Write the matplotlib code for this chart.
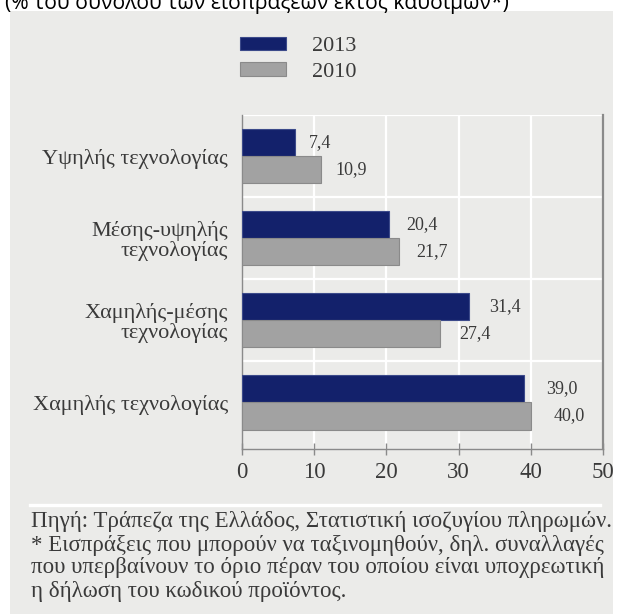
import matplotlib
matplotlib.use("Agg")
import matplotlib.pyplot as plt
from matplotlib.patches import Rectangle
from matplotlib.lines import Line2D
import numpy as np

categories = ["Υψηλής τεχνολογίας", "Μέσης-υψηλής\nτεχνολογίας",
              "Χαμηλής-μέσης\nτεχνολογίας", "Χαμηλής τεχνολογίας"]
values_2013 = [7.4, 20.4, 31.4, 39.0]
values_2010 = [10.9, 21.7, 27.4, 40.0]
series_labels = ["2013", "2010"]
xticks = [0, 10, 20, 30, 40, 50]
title = "(% του συνόλου των εισπράξεων εκτός καυσίμων*)"
notes = ["Πηγή: Τράπεζα της Ελλάδος, Στατιστική ισοζυγίου πληρωμών.",
         "* Εισπράξεις που μπορούν να ταξινομηθούν, δηλ. συναλλαγές",
         "που υπερβαίνουν το όριο πέραν του οποίου είναι υποχρεωτική",
         "η δήλωση του κωδικού προϊόντος."]

W, H = 620, 614
PANEL = "#ebebe9"
NAVY = "#13216b"
GREY = "#a2a2a2"
TXT = "#3a3a3a"
SERIF = ["Liberation Serif", "DejaVu Serif"]

fig = plt.figure(figsize=(W / 100, H / 100), dpi=100)
fig.patch.set_facecolor("white")
fig.add_artist(Rectangle((10 / W, 0), 603 / W, (H - 11) / H,
                         transform=fig.transFigure, facecolor=PANEL,
                         edgecolor="none", zorder=-5))

ax = fig.add_axes([242 / W, (H - 449) / H, (603 - 242) / W, (449 - 115) / H])
ax.set_zorder(2)
ax.set_facecolor(PANEL)

y = np.arange(len(categories))
bh = 0.33
b1 = ax.barh(y - bh / 2, values_2013, height=bh, color=NAVY, edgecolor="#3c4a8a",
             linewidth=0.8, label=series_labels[0], zorder=3)
b2 = ax.barh(y + bh / 2, values_2010, height=bh, color=GREY, edgecolor="#8a8a8a",
             linewidth=0.8, label=series_labels[1], zorder=3)

for yy, v in zip(y, values_2013):
    ax.text(v * 1.04 + 1.6, yy - bh / 2, f"{v:.1f}".replace(".", ","),
            ha="left", va="center", fontsize=13, family=SERIF, color=TXT)
for yy, v in zip(y, values_2010):
    ax.text(v * 1.04 + 1.6, yy + bh / 2, f"{v:.1f}".replace(".", ","),
            ha="left", va="center", fontsize=13, family=SERIF, color=TXT)

ax.set_xlim(0, 50)
ax.set_ylim(len(categories) - 1 + 0.567, -0.5)
ax.set_xticks(xticks)
ax.set_xticklabels([str(t) for t in xticks], family=SERIF, fontsize=16.5, color=TXT)
ax.set_yticks(y)
ax.set_yticklabels(categories, family=SERIF, fontsize=16, color=TXT,
                   linespacing=1.02)
ax.tick_params(axis="y", length=0, pad=10)
ax.tick_params(axis="x", direction="inout", length=8, width=1, color="#8a8a8a", pad=5)

for x in xticks[1:-1]:
    ax.axvline(x, color="white", lw=1.6, zorder=1)
for b in [-0.5, 0.5, 1.5, 2.5]:
    ax.axhline(b, color="white", lw=1.6, zorder=1)

ax.spines["top"].set_visible(False)
for s in ["left", "bottom"]:
    ax.spines[s].set_color("#8a8a8a")
    ax.spines[s].set_linewidth(1.0)
ax.spines["right"].set_color("#8a8a8a")
ax.spines["right"].set_linewidth(1.6)

leg = ax.legend(handles=[b1, b2], loc="upper left",
                bbox_to_anchor=(240 / W, 1 - 37 / H), bbox_transform=fig.transFigure,
                frameon=False, prop={"family": SERIF, "size": 16},
                handlelength=2.07, handleheight=0.54, handletextpad=1.15,
                labelspacing=0.26, borderpad=0, borderaxespad=0)
for t in leg.get_texts():
    t.set_color(TXT)

fig.add_artist(Line2D([30 / W, 600 / W], [1 - 505 / H] * 2, transform=fig.transFigure,
                      color="white", lw=2.4))

for i, line in enumerate(notes):
    fig.text(31 / W, 1 - (522 + 23 * i) / H, line, ha="left", va="center",
             fontsize=16.5, family=SERIF, color=TXT)

fig.text(5 / W, 1 - 9 / H, title, ha="left", va="baseline", fontsize=15.2,
         family=["Open Sans", "DejaVu Sans"], color="black")

fig.savefig("out.png", dpi=100, facecolor="white")
